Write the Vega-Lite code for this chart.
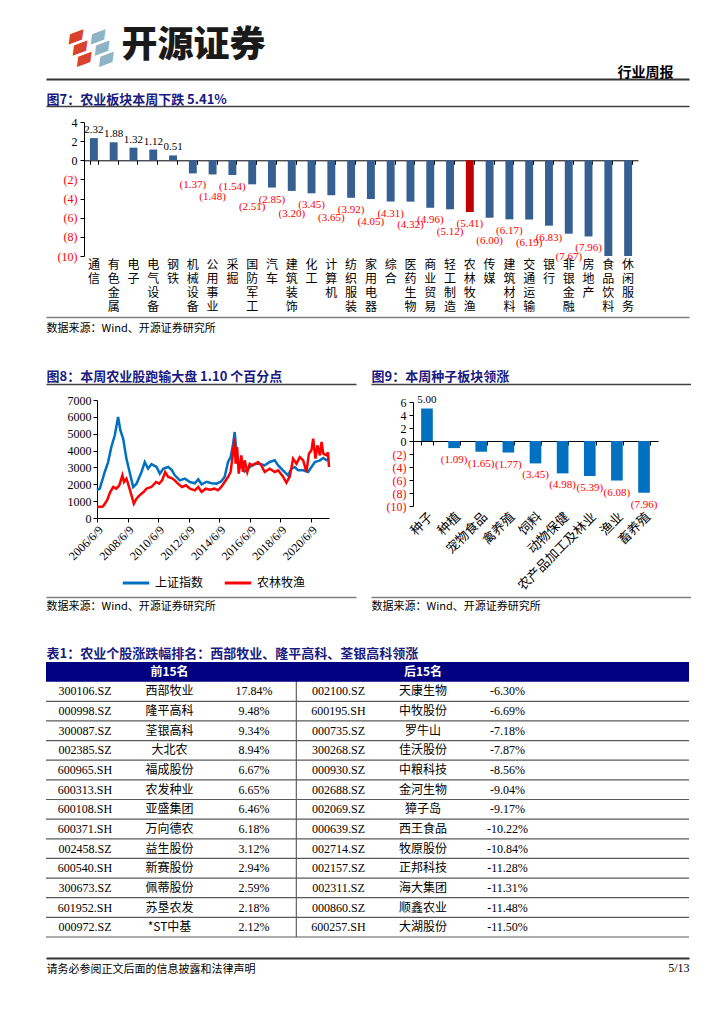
{
  "$schema": "https://vega.github.io/schema/vega-lite/v6.json",
  "padding": {"left": 45, "top": 0, "right": 0, "bottom": 0},
  "background": "white",
  "spacing": 0,
  "config": {
    "view": {"stroke": null},
    "font": "Liberation Serif, Noto Sans CJK SC",
    "axis": {"grid": false, "labelFont": "Liberation Serif, Noto Sans CJK SC", "titleFont": "Noto Sans CJK SC", "labelColor": "#000000", "domainColor": "#000000", "tickColor": "#000000"}
  },
  "datasets": {
    "sectors": [
      {"sector": "通信", "chg": 2.32}, {"sector": "有色金属", "chg": 1.88}, {"sector": "电子", "chg": 1.32},
      {"sector": "电气设备", "chg": 1.12}, {"sector": "钢铁", "chg": 0.51}, {"sector": "机械设备", "chg": -1.37},
      {"sector": "公用事业", "chg": -1.48}, {"sector": "采掘", "chg": -1.54}, {"sector": "国防军工", "chg": -2.51},
      {"sector": "汽车", "chg": -2.85}, {"sector": "建筑装饰", "chg": -3.20}, {"sector": "化工", "chg": -3.45},
      {"sector": "计算机", "chg": -3.65}, {"sector": "纺织服装", "chg": -3.92}, {"sector": "家用电器", "chg": -4.05},
      {"sector": "综合", "chg": -4.31}, {"sector": "医药生物", "chg": -4.32}, {"sector": "商业贸易", "chg": -4.96},
      {"sector": "轻工制造", "chg": -5.12}, {"sector": "农林牧渔", "chg": -5.41}, {"sector": "传媒", "chg": -6.00},
      {"sector": "建筑材料", "chg": -6.17}, {"sector": "交通运输", "chg": -6.19}, {"sector": "银行", "chg": -6.83},
      {"sector": "非银金融", "chg": -7.67}, {"sector": "房地产", "chg": -7.96}, {"sector": "食品饮料", "chg": -10.41},
      {"sector": "休闲服务", "chg": -10.79}
    ],
    "subsectors": [
      {"sector": "种子", "chg": 5.00}, {"sector": "种植", "chg": -1.09}, {"sector": "宠物食品", "chg": -1.65},
      {"sector": "禽养殖", "chg": -1.77}, {"sector": "饲料", "chg": -3.45}, {"sector": "动物保健", "chg": -4.98},
      {"sector": "农产品加工及林业", "chg": -5.39}, {"sector": "渔业", "chg": -6.08}, {"sector": "畜养殖", "chg": -7.96}
    ],
    "index": [
      {"date": "2006-06-09", "series": "上证指数", "close": 1650},
      {"date": "2006-08-15", "series": "上证指数", "close": 1740},
      {"date": "2006-12-08", "series": "上证指数", "close": 2700},
      {"date": "2007-02-28", "series": "上证指数", "close": 3300},
      {"date": "2007-05-18", "series": "上证指数", "close": 4212},
      {"date": "2007-08-08", "series": "上证指数", "close": 4904},
      {"date": "2007-10-26", "series": "上证指数", "close": 5991},
      {"date": "2007-12-20", "series": "上证指数", "close": 5200},
      {"date": "2008-02-24", "series": "上证指数", "close": 4706},
      {"date": "2008-05-12", "series": "上证指数", "close": 3520},
      {"date": "2008-07-30", "series": "上证指数", "close": 2700},
      {"date": "2008-10-20", "series": "上证指数", "close": 1839},
      {"date": "2009-01-08", "series": "上证指数", "close": 2035},
      {"date": "2009-05-08", "series": "上证指数", "close": 2729},
      {"date": "2009-07-24", "series": "上证指数", "close": 3322},
      {"date": "2009-10-12", "series": "上证指数", "close": 2925},
      {"date": "2009-12-31", "series": "上证指数", "close": 3200},
      {"date": "2010-05-01", "series": "上证指数", "close": 3025},
      {"date": "2010-07-20", "series": "上证指数", "close": 2630},
      {"date": "2010-10-08", "series": "上证指数", "close": 2925},
      {"date": "2011-02-06", "series": "上证指数", "close": 3025},
      {"date": "2011-04-27", "series": "上证指数", "close": 2860},
      {"date": "2011-07-13", "series": "上证指数", "close": 2531},
      {"date": "2011-11-10", "series": "上证指数", "close": 2235},
      {"date": "2012-03-10", "series": "上证指数", "close": 2333},
      {"date": "2012-07-08", "series": "上证指数", "close": 2135},
      {"date": "2012-11-03", "series": "上证指数", "close": 2060},
      {"date": "2013-01-22", "series": "上证指数", "close": 2300},
      {"date": "2013-04-13", "series": "上证指数", "close": 2000},
      {"date": "2013-08-11", "series": "上证指数", "close": 2150},
      {"date": "2013-12-05", "series": "上证指数", "close": 2060},
      {"date": "2014-04-05", "series": "上证指数", "close": 2040},
      {"date": "2014-07-27", "series": "上证指数", "close": 2175},
      {"date": "2014-10-15", "series": "上证指数", "close": 2432},
      {"date": "2015-01-04", "series": "上证指数", "close": 3322},
      {"date": "2015-03-07", "series": "上证指数", "close": 3619},
      {"date": "2015-05-01", "series": "上证指数", "close": 4310},
      {"date": "2015-06-12", "series": "上证指数", "close": 5102},
      {"date": "2015-07-20", "series": "上证指数", "close": 4014},
      {"date": "2015-08-29", "series": "上证指数", "close": 3223},
      {"date": "2015-11-18", "series": "上证指数", "close": 3025},
      {"date": "2016-02-06", "series": "上证指数", "close": 2768},
      {"date": "2016-06-06", "series": "上证指数", "close": 3025},
      {"date": "2016-10-05", "series": "上证指数", "close": 3223},
      {"date": "2017-01-30", "series": "上证指数", "close": 3223},
      {"date": "2017-05-30", "series": "上证指数", "close": 3124},
      {"date": "2017-09-27", "series": "上证指数", "close": 3322},
      {"date": "2018-01-25", "series": "上证指数", "close": 3421},
      {"date": "2018-04-16", "series": "上证指数", "close": 3124},
      {"date": "2018-08-11", "series": "上证指数", "close": 2827},
      {"date": "2018-12-08", "series": "上证指数", "close": 2531},
      {"date": "2019-02-27", "series": "上证指数", "close": 2926},
      {"date": "2019-05-18", "series": "上证指数", "close": 3025},
      {"date": "2019-08-07", "series": "上证指数", "close": 2827},
      {"date": "2019-12-05", "series": "上证指数", "close": 2827},
      {"date": "2020-04-01", "series": "上证指数", "close": 2728},
      {"date": "2020-06-20", "series": "上证指数", "close": 3025},
      {"date": "2020-09-09", "series": "上证指数", "close": 3322},
      {"date": "2021-01-08", "series": "上证指数", "close": 3421},
      {"date": "2021-03-29", "series": "上证指数", "close": 3560},
      {"date": "2021-06-17", "series": "上证指数", "close": 3421},
      {"date": "2021-08-13", "series": "上证指数", "close": 3520},
      {"date": "2006-06-09", "series": "农林牧渔", "close": 653},
      {"date": "2006-10-29", "series": "农林牧渔", "close": 680},
      {"date": "2007-02-06", "series": "农林牧渔", "close": 1050},
      {"date": "2007-04-20", "series": "农林牧渔", "close": 1542},
      {"date": "2007-07-01", "series": "农林牧渔", "close": 1840},
      {"date": "2007-09-12", "series": "农林牧渔", "close": 1740},
      {"date": "2007-11-24", "series": "农林牧渔", "close": 1940},
      {"date": "2008-02-06", "series": "农林牧渔", "close": 2531},
      {"date": "2008-03-14", "series": "农林牧渔", "close": 2140},
      {"date": "2008-05-12", "series": "农林牧渔", "close": 2333},
      {"date": "2008-06-20", "series": "农林牧渔", "close": 2040},
      {"date": "2008-09-10", "series": "农林牧渔", "close": 1345},
      {"date": "2008-11-06", "series": "农林牧渔", "close": 850},
      {"date": "2009-01-08", "series": "农林牧渔", "close": 1146},
      {"date": "2009-03-20", "series": "农林牧渔", "close": 1345},
      {"date": "2009-06-25", "series": "农林牧渔", "close": 1542},
      {"date": "2009-09-05", "series": "农林牧渔", "close": 1740},
      {"date": "2009-12-31", "series": "农林牧渔", "close": 1840},
      {"date": "2010-04-20", "series": "农林牧渔", "close": 2135},
      {"date": "2010-07-01", "series": "农林牧渔", "close": 2040},
      {"date": "2010-09-12", "series": "农林牧渔", "close": 2235},
      {"date": "2010-11-24", "series": "农林牧渔", "close": 2729},
      {"date": "2011-02-06", "series": "农林牧渔", "close": 2433},
      {"date": "2011-04-27", "series": "农林牧渔", "close": 2370},
      {"date": "2011-07-13", "series": "农林牧渔", "close": 2235},
      {"date": "2011-09-25", "series": "农林牧渔", "close": 2040},
      {"date": "2011-12-31", "series": "农林牧渔", "close": 1840},
      {"date": "2012-04-05", "series": "农林牧渔", "close": 1940},
      {"date": "2012-07-08", "series": "农林牧渔", "close": 1740},
      {"date": "2012-11-03", "series": "农林牧渔", "close": 1640},
      {"date": "2013-01-22", "series": "农林牧渔", "close": 1840},
      {"date": "2013-04-13", "series": "农林牧渔", "close": 1542},
      {"date": "2013-07-20", "series": "农林牧渔", "close": 1740},
      {"date": "2013-10-30", "series": "农林牧渔", "close": 1680},
      {"date": "2014-02-15", "series": "农林牧渔", "close": 1740},
      {"date": "2014-05-08", "series": "农林牧渔", "close": 1641},
      {"date": "2014-07-27", "series": "农林牧渔", "close": 1839},
      {"date": "2014-10-15", "series": "农林牧渔", "close": 2136},
      {"date": "2015-01-04", "series": "农林牧渔", "close": 2432},
      {"date": "2015-03-07", "series": "农林牧渔", "close": 2729},
      {"date": "2015-05-01", "series": "农林牧渔", "close": 3816},
      {"date": "2015-06-12", "series": "农林牧渔", "close": 4706},
      {"date": "2015-07-05", "series": "农林牧渔", "close": 3223},
      {"date": "2015-08-08", "series": "农林牧渔", "close": 4212},
      {"date": "2015-09-17", "series": "农林牧渔", "close": 2630},
      {"date": "2015-11-18", "series": "农林牧渔", "close": 3718},
      {"date": "2015-12-28", "series": "农林牧渔", "close": 2729},
      {"date": "2016-02-06", "series": "农林牧渔", "close": 3421},
      {"date": "2016-04-08", "series": "农林牧渔", "close": 2729},
      {"date": "2016-06-06", "series": "农林牧渔", "close": 3223},
      {"date": "2016-08-25", "series": "农林牧渔", "close": 3124},
      {"date": "2016-12-20", "series": "农林牧渔", "close": 3322},
      {"date": "2017-03-10", "series": "农林牧渔", "close": 3124},
      {"date": "2017-05-30", "series": "农林牧渔", "close": 2729},
      {"date": "2017-09-27", "series": "农林牧渔", "close": 2926},
      {"date": "2018-01-25", "series": "农林牧渔", "close": 2729},
      {"date": "2018-04-16", "series": "农林牧渔", "close": 2827},
      {"date": "2018-08-11", "series": "农林牧渔", "close": 2451},
      {"date": "2018-10-30", "series": "农林牧渔", "close": 2096},
      {"date": "2019-01-18", "series": "农林牧渔", "close": 2451},
      {"date": "2019-04-08", "series": "农林牧渔", "close": 3520},
      {"date": "2019-06-28", "series": "农林牧渔", "close": 3223},
      {"date": "2019-09-16", "series": "农林牧渔", "close": 3619},
      {"date": "2019-12-05", "series": "农林牧渔", "close": 3421},
      {"date": "2020-02-20", "series": "农林牧渔", "close": 2729},
      {"date": "2020-04-20", "series": "农林牧渔", "close": 3816},
      {"date": "2020-06-20", "series": "农林牧渔", "close": 4014},
      {"date": "2020-07-31", "series": "农林牧渔", "close": 4706},
      {"date": "2020-09-24", "series": "农林牧渔", "close": 3520},
      {"date": "2020-11-10", "series": "农林牧渔", "close": 4310},
      {"date": "2021-01-08", "series": "农林牧渔", "close": 3718},
      {"date": "2021-02-17", "series": "农林牧渔", "close": 4508},
      {"date": "2021-03-29", "series": "农林牧渔", "close": 3816},
      {"date": "2021-06-17", "series": "农林牧渔", "close": 3718},
      {"date": "2021-07-20", "series": "农林牧渔", "close": 3900},
      {"date": "2021-08-13", "series": "农林牧渔", "close": 3025}
    ],
    "stocks": [
      {"rank": 1, "a_code": "300106.SZ", "a_name": "西部牧业", "a_pct": "17.84%", "b_code": "002100.SZ", "b_name": "天康生物", "b_pct": "-6.30%"},
      {"rank": 2, "a_code": "000998.SZ", "a_name": "隆平高科", "a_pct": "9.48%", "b_code": "600195.SH", "b_name": "中牧股份", "b_pct": "-6.69%"},
      {"rank": 3, "a_code": "300087.SZ", "a_name": "荃银高科", "a_pct": "9.34%", "b_code": "000735.SZ", "b_name": "罗牛山", "b_pct": "-7.18%"},
      {"rank": 4, "a_code": "002385.SZ", "a_name": "大北农", "a_pct": "8.94%", "b_code": "300268.SZ", "b_name": "佳沃股份", "b_pct": "-7.87%"},
      {"rank": 5, "a_code": "600965.SH", "a_name": "福成股份", "a_pct": "6.67%", "b_code": "000930.SZ", "b_name": "中粮科技", "b_pct": "-8.56%"},
      {"rank": 6, "a_code": "600313.SH", "a_name": "农发种业", "a_pct": "6.65%", "b_code": "002688.SZ", "b_name": "金河生物", "b_pct": "-9.04%"},
      {"rank": 7, "a_code": "600108.SH", "a_name": "亚盛集团", "a_pct": "6.46%", "b_code": "002069.SZ", "b_name": "獐子岛", "b_pct": "-9.17%"},
      {"rank": 8, "a_code": "600371.SH", "a_name": "万向德农", "a_pct": "6.18%", "b_code": "000639.SZ", "b_name": "西王食品", "b_pct": "-10.22%"},
      {"rank": 9, "a_code": "002458.SZ", "a_name": "益生股份", "a_pct": "3.12%", "b_code": "002714.SZ", "b_name": "牧原股份", "b_pct": "-10.84%"},
      {"rank": 10, "a_code": "600540.SH", "a_name": "新赛股份", "a_pct": "2.94%", "b_code": "002157.SZ", "b_name": "正邦科技", "b_pct": "-11.28%"},
      {"rank": 11, "a_code": "300673.SZ", "a_name": "佩蒂股份", "a_pct": "2.59%", "b_code": "002311.SZ", "b_name": "海大集团", "b_pct": "-11.31%"},
      {"rank": 12, "a_code": "601952.SH", "a_name": "苏垦农发", "a_pct": "2.18%", "b_code": "000860.SZ", "b_name": "顺鑫农业", "b_pct": "-11.48%"},
      {"rank": 13, "a_code": "000972.SZ", "a_name": "*ST中基", "a_pct": "2.12%", "b_code": "600257.SH", "b_name": "大湖股份", "b_pct": "-11.50%"}
    ]
  },
  "vconcat": [
    {
      "width": 643, "height": 80,
      "data": {"values": [{"k": 0.5}]},
      "resolve": {"axis": {"x": "independent", "y": "independent"}},
      "layer": [
        {
          "mark": {"type": "point", "opacity": 0, "size": 0},
          "encoding": {
            "x": {"field": "k", "type": "quantitative", "scale": {"domain": [0, 1]},
              "axis": {"orient": "bottom", "offset": -1, "domain": true, "domainColor": "#333333", "domainWidth": 2, "ticks": false, "labels": false,
                "title": "行业周报", "titleX": 627, "titleY": -3, "titleAlign": "right", "titleBaseline": "alphabetic", "titleFontSize": 14, "titleFontWeight": "bold", "titleColor": "#000000"}},
            "y": {"field": "k", "type": "quantitative", "scale": {"domain": [0, 1]},
              "axis": {"orient": "left", "domain": false, "ticks": false, "labels": false,
                "title": "开源证券", "titleAngle": 0, "titleX": 75, "titleY": 56, "titleAlign": "left", "titleBaseline": "alphabetic", "titleFontSize": 36, "titleFontWeight": 900, "titleColor": "#1a1a1a"}}
          }
        },
        {
          "mark": {"type": "point", "opacity": 0, "size": 0},
          "encoding": {
            "x": {"field": "k", "type": "quantitative",
              "axis": {"orient": "top", "domain": false, "ticks": false, "labels": false,
                "title": ["▰", "▰", "▰"], "titleX": 29, "titleY": 35, "titleAlign": "center", "titleBaseline": "middle", "titleAngle": -20, "titleLineHeight": 12, "titleFont": "DejaVu Sans", "titleFontSize": 25, "titleFontWeight": "normal", "titleColor": "#D9432C"}},
            "y": {"field": "k", "type": "quantitative",
              "axis": {"orient": "right", "domain": false, "ticks": false, "labels": false,
                "title": ["▰", "▰", "▰"], "titleX": -592, "titleY": 35, "titleAlign": "center", "titleBaseline": "middle", "titleAngle": -20, "titleLineHeight": 12, "titleFont": "DejaVu Sans", "titleFontSize": 25, "titleFontWeight": "normal", "titleColor": "#8DB3C4"}}
          }
        }
      ]
    },
    {
      "width": 643, "height": 27,
      "data": {"values": [{"k": 0.5}]},
      "mark": {"type": "point", "opacity": 0, "size": 0},
      "encoding": {
        "x": {"field": "k", "type": "quantitative", "scale": {"domain": [0, 1]},
          "axis": {"orient": "bottom", "offset": -1, "domain": true, "domainColor": "#404040", "domainWidth": 1.5, "ticks": false, "labels": false,
            "title": "图7：农业板块本周下跌 5.41%", "titleX": 0, "titleY": -3, "titleAlign": "left", "titleBaseline": "alphabetic", "titleFontSize": 13, "titleFontWeight": "bold", "titleColor": "#1A1A80"}}
      }
    },
    {
      "width": 643, "height": 209,
      "data": {"name": "sectors"},
      "resolve": {"axis": {"x": "independent", "y": "independent"}},
      "layer": [
        {
          "mark": {"type": "bar"},
          "encoding": {
            "x": {"field": "sector", "type": "nominal", "sort": null,
              "scale": {"range": [38, 592], "paddingInner": 0.6, "paddingOuter": 0.3},
              "axis": {"orient": "bottom", "offset": -155.7, "labels": false, "title": null, "domain": true, "ticks": true, "tickBand": "extent", "tickSize": 4}},
            "y": {"field": "chg", "type": "quantitative",
              "scale": {"domain": [-10, 4], "range": [149, 15], "nice": false, "zero": false, "clamp": true},
              "axis": {"orient": "left", "offset": -38, "values": [-10, -8, -6, -4, -2, 0, 2, 4], "title": null,
                "labelExpr": "datum.value < 0 ? '(' + (-datum.value) + ')' : datum.label",
                "labelColor": {"condition": {"test": "datum.value < 0", "value": "#FF0000"}, "value": "#000000"},
                "labelFontSize": 12, "tickSize": 4, "labelPadding": 3}},
            "color": {"condition": {"test": "datum.sector === '农林牧渔'", "value": "#C00000"}, "value": "#376092"}
          }
        },
        {
          "transform": [{"filter": "datum.chg > 0"}],
          "mark": {"type": "text", "fontSize": 11, "dy": -8, "color": "#000000"},
          "encoding": {
            "x": {"field": "sector", "type": "nominal", "sort": null,
              "axis": {"orient": "bottom", "offset": -60, "domain": false, "ticks": false, "title": null,
                "labelExpr": "split(datum.label, '')", "labelAngle": 0, "labelFont": "Noto Sans CJK SC", "labelFontSize": 12,
                "labelLineHeight": 14, "labelPadding": 3, "labelBaseline": "top"}},
            "y": {"field": "chg", "type": "quantitative", "axis": null},
            "text": {"field": "chg", "type": "quantitative", "format": ".2f"}
          }
        },
        {
          "transform": [{"window": [{"op": "row_number", "as": "i"}]}, {"filter": "datum.chg < 0 && datum.chg >= -10 && datum.i % 2 == 0"}],
          "mark": {"type": "text", "fontSize": 11, "dy": 12, "color": "#FF0000"},
          "encoding": {
            "x": {"field": "sector", "type": "nominal", "sort": null, "axis": null},
            "y": {"field": "chg", "type": "quantitative", "axis": null},
            "text": {"field": "chg", "type": "quantitative", "format": "(.2f"}
          }
        },
        {
          "transform": [{"window": [{"op": "row_number", "as": "i"}]}, {"filter": "datum.chg < 0 && datum.chg >= -10 && datum.i % 2 == 1"}],
          "mark": {"type": "text", "fontSize": 11, "dy": 23, "color": "#FF0000"},
          "encoding": {
            "x": {"field": "sector", "type": "nominal", "sort": null, "axis": null},
            "y": {"field": "chg", "type": "quantitative", "axis": null},
            "text": {"field": "chg", "type": "quantitative", "format": "(.2f"}
          }
        }
      ]
    },
    {
      "width": 643, "height": 30,
      "data": {"values": [{"k": 0.5}]},
      "mark": {"type": "point", "opacity": 0, "size": 0},
      "encoding": {
        "x": {"field": "k", "type": "quantitative", "scale": {"domain": [0, 1]},
          "axis": {"orient": "top", "offset": -1, "domain": true, "domainColor": "#7f7f7f", "domainWidth": 1.5, "ticks": false, "labels": false,
            "title": "数据来源：Wind、开源证券研究所", "titleX": 0, "titleY": 5, "titleAlign": "left", "titleBaseline": "top", "titleFontSize": 11, "titleFontWeight": "normal", "titleColor": "#000000"}}
      }
    },
    {
      "spacing": 15,
      "hconcat": [
        {
          "width": 310, "height": 39,
          "data": {"values": [{"k": 0.5}]},
          "mark": {"type": "point", "opacity": 0, "size": 0},
          "encoding": {
            "x": {"field": "k", "type": "quantitative", "scale": {"domain": [0, 1]},
              "axis": {"orient": "bottom", "offset": -1, "domain": true, "domainColor": "#404040", "domainWidth": 1.5, "ticks": false, "labels": false,
                "title": "图8：本周农业股跑输大盘 1.10 个百分点", "titleX": 0, "titleY": -4, "titleAlign": "left", "titleBaseline": "alphabetic", "titleFontSize": 13, "titleFontWeight": "bold", "titleColor": "#1A1A80"}}
          }
        },
        {
          "width": 320, "height": 39,
          "data": {"values": [{"k": 0.5}]},
          "mark": {"type": "point", "opacity": 0, "size": 0},
          "encoding": {
            "x": {"field": "k", "type": "quantitative", "scale": {"domain": [0, 1]},
              "axis": {"orient": "bottom", "offset": -1, "domain": true, "domainColor": "#404040", "domainWidth": 1.5, "ticks": false, "labels": false,
                "title": "图9：本周种子板块领涨", "titleX": 0, "titleY": -4, "titleAlign": "left", "titleBaseline": "alphabetic", "titleFontSize": 13, "titleFontWeight": "bold", "titleColor": "#1A1A80"}}
          }
        }
      ]
    },
    {
      "spacing": 15,
      "hconcat": [
        {
          "width": 310, "height": 211,
          "data": {"name": "index"},
          "mark": {"type": "line", "strokeWidth": 2.5},
          "encoding": {
            "x": {"field": "date", "type": "temporal",
              "scale": {"type": "utc", "domain": [{"year": 2006, "month": 6, "date": 9, "utc": true}, {"year": 2021, "month": 8, "date": 13, "utc": true}], "range": [51, 283]},
              "axis": {"orient": "bottom", "offset": -78, "title": null, "format": "%Y/%-m/%-d", "labelAngle": -45, "labelFontSize": 12, "tickSize": 4, "labelPadding": 2, "labelOverlap": false,
                "values": [
                  {"year": 2006, "month": 6, "date": 9, "utc": true}, {"year": 2008, "month": 6, "date": 9, "utc": true},
                  {"year": 2010, "month": 6, "date": 9, "utc": true}, {"year": 2012, "month": 6, "date": 9, "utc": true},
                  {"year": 2014, "month": 6, "date": 9, "utc": true}, {"year": 2016, "month": 6, "date": 9, "utc": true},
                  {"year": 2018, "month": 6, "date": 9, "utc": true}, {"year": 2020, "month": 6, "date": 9, "utc": true}]}},
            "y": {"field": "close", "type": "quantitative",
              "scale": {"domain": [0, 7000], "range": [133, 15], "nice": false},
              "axis": {"orient": "left", "offset": -51, "values": [0, 1000, 2000, 3000, 4000, 5000, 6000, 7000], "format": "d", "title": null, "labelFontSize": 12, "tickSize": 4, "labelOverlap": false}},
            "color": {"field": "series", "type": "nominal", "sort": null,
              "scale": {"domain": ["上证指数", "农林牧渔"], "range": ["#0070C0", "#FF0000"]},
              "legend": {"orient": "none", "legendX": 75, "legendY": 568, "direction": "horizontal", "title": null, "padding": 0,
                "symbolType": "stroke", "symbolSize": 700, "symbolStrokeWidth": 3, "labelFont": "Noto Sans CJK SC", "labelFontSize": 12, "columnPadding": 14}}
          }
        },
        {
          "width": 320, "height": 211,
          "data": {"name": "subsectors"},
          "resolve": {"axis": {"x": "independent", "y": "independent"}},
          "layer": [
            {
              "mark": {"type": "bar", "color": "#0070C0"},
              "encoding": {
                "x": {"field": "sector", "type": "nominal", "sort": null,
                  "scale": {"range": [42, 287], "paddingInner": 0.57, "paddingOuter": 0.3},
                  "axis": {"orient": "bottom", "offset": -155, "labels": false, "title": null, "domain": true, "ticks": true, "tickBand": "extent", "tickSize": 4}},
                "y": {"field": "chg", "type": "quantitative",
                  "scale": {"domain": [-10, 6], "range": [121, 17], "nice": false, "zero": false},
                  "axis": {"orient": "left", "offset": -42, "values": [-10, -8, -6, -4, -2, 0, 2, 4, 6], "title": null,
                    "labelExpr": "datum.value < 0 ? '(' + (-datum.value) + ')' : datum.label",
                    "labelColor": {"condition": {"test": "datum.value < 0", "value": "#FF0000"}, "value": "#000000"},
                    "labelFontSize": 12, "tickSize": 4, "labelPadding": 3, "labelOverlap": false}}
              }
            },
            {
              "transform": [{"filter": "datum.chg > 0"}],
              "mark": {"type": "text", "fontSize": 11, "dy": -9, "color": "#000000"},
              "encoding": {
                "x": {"field": "sector", "type": "nominal", "sort": null,
                  "axis": {"orient": "bottom", "offset": -90, "domain": false, "ticks": false, "title": null,
                    "labelAngle": -45, "labelFont": "Noto Sans CJK SC", "labelFontSize": 13, "labelPadding": 4}},
                "y": {"field": "chg", "type": "quantitative", "axis": null},
                "text": {"field": "chg", "type": "quantitative", "format": ".2f"}
              }
            },
            {
              "transform": [{"filter": "datum.chg < 0"}],
              "mark": {"type": "text", "fontSize": 11, "dy": 12, "color": "#FF0000"},
              "encoding": {
                "x": {"field": "sector", "type": "nominal", "sort": null, "axis": null},
                "y": {"field": "chg", "type": "quantitative", "axis": null},
                "text": {"field": "chg", "type": "quantitative", "format": "(.2f"}
              }
            }
          ]
        }
      ]
    },
    {
      "spacing": 15,
      "hconcat": [
        {
          "width": 310, "height": 25,
          "data": {"values": [{"k": 0.5}]},
          "mark": {"type": "point", "opacity": 0, "size": 0},
          "encoding": {
            "x": {"field": "k", "type": "quantitative", "scale": {"domain": [0, 1]},
              "axis": {"orient": "top", "offset": -1, "domain": true, "domainColor": "#7f7f7f", "domainWidth": 1.5, "ticks": false, "labels": false,
                "title": "数据来源：Wind、开源证券研究所", "titleX": 0, "titleY": 3, "titleAlign": "left", "titleBaseline": "top", "titleFontSize": 11, "titleFontWeight": "normal", "titleColor": "#000000"}}
          }
        },
        {
          "width": 320, "height": 25,
          "data": {"values": [{"k": 0.5}]},
          "mark": {"type": "point", "opacity": 0, "size": 0},
          "encoding": {
            "x": {"field": "k", "type": "quantitative", "scale": {"domain": [0, 1]},
              "axis": {"orient": "top", "offset": -1, "domain": true, "domainColor": "#7f7f7f", "domainWidth": 1.5, "ticks": false, "labels": false,
                "title": "数据来源：Wind、开源证券研究所", "titleX": 0, "titleY": 3, "titleAlign": "left", "titleBaseline": "top", "titleFontSize": 11, "titleFontWeight": "normal", "titleColor": "#000000"}}
          }
        }
      ]
    },
    {
      "width": 643, "height": 40,
      "data": {"values": [{"k": 0.5}]},
      "mark": {"type": "point", "opacity": 0, "size": 0},
      "encoding": {
        "x": {"field": "k", "type": "quantitative", "scale": {"domain": [0, 1]},
          "axis": {"orient": "bottom", "offset": -1, "domain": false, "ticks": false, "labels": false,
            "title": "表1：农业个股涨跌幅排名：西部牧业、隆平高科、荃银高科领涨", "titleX": 0, "titleY": -3, "titleAlign": "left", "titleBaseline": "alphabetic", "titleFontSize": 13, "titleFontWeight": "bold", "titleColor": "#1A1A80"}}
      }
    },
    {
      "width": 643, "height": 275,
      "data": {"name": "stocks"},
      "layer": [
        {
          "transform": [{"filter": "datum.rank === 1"}],
          "mark": {"type": "rule", "color": "#404040", "strokeWidth": 1},
          "encoding": {
            "x": {"datum": 3.5, "type": "quantitative", "scale": {"domain": [0.538, 8.148], "nice": false, "zero": false}, "axis": null}
          }
        },
        {
          "transform": [{"filter": "datum.rank === 1"}],
          "mark": {"type": "rect", "color": "#000080"},
          "encoding": {
            "y": {"datum": "h", "type": "ordinal", "scale": {"domain": ["h", 1, 2, 3, 4, 5, 6, 7, 8, 9, 10, 11, 12, 13], "paddingInner": 0, "paddingOuter": 0}, "axis": null}
          }
        },
        {
          "mark": {"type": "rule", "color": "#5a5a5a", "strokeWidth": 1.2},
          "encoding": {
            "y": {"field": "rank", "type": "ordinal", "bandPosition": 1, "axis": null}
          }
        },
        {
          "transform": [{"filter": "datum.rank === 1"}],
          "mark": {"type": "text", "color": "#ffffff", "fontWeight": "bold", "fontSize": 12, "font": "Noto Sans CJK SC"},
          "encoding": {
            "x": {"datum": 2, "type": "quantitative", "axis": null},
            "y": {"datum": "h", "type": "ordinal", "axis": null},
            "text": {"value": "前15名"}
          }
        },
        {
          "transform": [{"filter": "datum.rank === 1"}],
          "mark": {"type": "text", "color": "#ffffff", "fontWeight": "bold", "fontSize": 12, "font": "Noto Sans CJK SC"},
          "encoding": {
            "x": {"datum": 5, "type": "quantitative", "axis": null},
            "y": {"datum": "h", "type": "ordinal", "axis": null},
            "text": {"value": "后15名"}
          }
        },
        {
          "mark": {"type": "text", "fontSize": 12, "color": "#000000"},
          "encoding": {
            "x": {"datum": 1, "type": "quantitative", "axis": null},
            "y": {"field": "rank", "type": "ordinal", "axis": null},
            "text": {"field": "a_code"}
          }
        },
        {
          "mark": {"type": "text", "fontSize": 12, "color": "#000000", "font": "Noto Sans CJK SC"},
          "encoding": {
            "x": {"datum": 2, "type": "quantitative", "axis": null},
            "y": {"field": "rank", "type": "ordinal", "axis": null},
            "text": {"field": "a_name"}
          }
        },
        {
          "mark": {"type": "text", "fontSize": 12, "color": "#000000"},
          "encoding": {
            "x": {"datum": 3, "type": "quantitative", "axis": null},
            "y": {"field": "rank", "type": "ordinal", "axis": null},
            "text": {"field": "a_pct"}
          }
        },
        {
          "mark": {"type": "text", "fontSize": 12, "color": "#000000"},
          "encoding": {
            "x": {"datum": 4, "type": "quantitative", "axis": null},
            "y": {"field": "rank", "type": "ordinal", "axis": null},
            "text": {"field": "b_code"}
          }
        },
        {
          "mark": {"type": "text", "fontSize": 12, "color": "#000000", "font": "Noto Sans CJK SC"},
          "encoding": {
            "x": {"datum": 5, "type": "quantitative", "axis": null},
            "y": {"field": "rank", "type": "ordinal", "axis": null},
            "text": {"field": "b_name"}
          }
        },
        {
          "mark": {"type": "text", "fontSize": 12, "color": "#000000"},
          "encoding": {
            "x": {"datum": 6, "type": "quantitative", "axis": null},
            "y": {"field": "rank", "type": "ordinal", "axis": null},
            "text": {"field": "b_pct"}
          }
        }
      ]
    },
    {
      "width": 643, "height": 40,
      "data": {"values": [{"k": 0.5}]},
      "mark": {"type": "point", "opacity": 0, "size": 0},
      "encoding": {
        "x": {"field": "k", "type": "quantitative", "scale": {"domain": [0, 1]},
          "axis": {"orient": "bottom", "offset": -20, "domain": true, "domainColor": "#333333", "domainWidth": 2, "ticks": false, "labels": false,
            "title": "请务必参阅正文后面的信息披露和法律声明", "titleX": 0, "titleY": 5, "titleAlign": "left", "titleBaseline": "top", "titleFontSize": 11, "titleFontWeight": "normal", "titleColor": "#000000"}},
        "y": {"field": "k", "type": "quantitative", "scale": {"domain": [0, 1]},
          "axis": {"orient": "right", "domain": false, "ticks": false, "labels": false,
            "title": "5/13", "titleAngle": 0, "titleX": 0, "titleY": 29, "titleAlign": "right", "titleBaseline": "middle", "titleFont": "Liberation Serif", "titleFontSize": 12, "titleFontWeight": "normal", "titleColor": "#000000"}}
      }
    }
  ]
}
